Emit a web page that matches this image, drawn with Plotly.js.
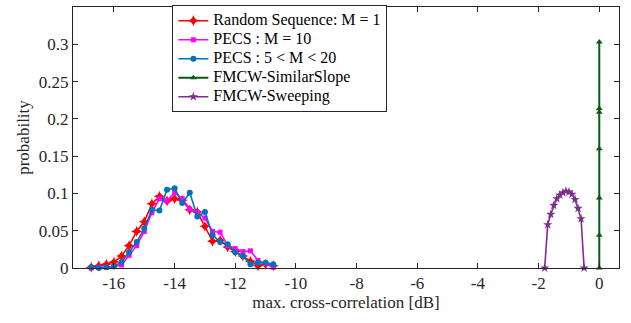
<!DOCTYPE html>
<html>
<head>
<meta charset="utf-8">
<script src="https://cdn.plot.ly/plotly-3.0.1.min.js"></script>
<style>html,body{margin:0;padding:0;background:#fff;}#chart{width:631px;height:323px;}</style>
</head>
<body>
<div id="chart"></div>
<script>
// bins of the three correlation histograms [dB]
const binX = [-16.75,-16.5,-16.25,-16.0,-15.75,-15.5,-15.25,-15.0,-14.75,-14.5,-14.25,-14.0,-13.75,-13.5,-13.25,-13.0,-12.75,-12.5,-12.25,-12.0,-11.75,-11.5,-11.25,-11.0,-10.75];
const randomSeq = [0.001,0.003,0.005,0.008,0.016,0.030,0.049,0.062,0.086,0.096,0.090,0.093,0.091,0.078,0.075,0.056,0.036,0.037,0.028,0.022,0.016,0.009,0.003,0.005,0.003];
const pecsM10  = [0.000,0.001,0.001,0.002,0.004,0.017,0.030,0.049,0.074,0.093,0.090,0.101,0.093,0.079,0.074,0.067,0.049,0.048,0.030,0.026,0.022,0.023,0.010,0.006,0.001];
const pecsMrange = [0.001,0.000,0.001,0.002,0.008,0.021,0.035,0.053,0.078,0.077,0.105,0.107,0.087,0.101,0.069,0.075,0.044,0.035,0.032,0.021,0.016,0.005,0.007,0.007,0.005];

const sweepX = [-1.8,-1.7,-1.6,-1.5,-1.4,-1.3,-1.2,-1.1,-1.0,-0.9,-0.8,-0.7,-0.6,-0.5];
const sweepY = [0,0.058,0.072,0.084,0.093,0.098,0.101,0.103,0.102,0.099,0.092,0.080,0.066,0];

const similarX = [0,0,0,0,0,0,0];
const similarY = [0,0.044,0.094,0.160,0.209,0.214,0.303];

const seriesNames = ['Random Sequence: M = 1','PECS : M = 10','PECS : 5 &lt; M &lt; 20','FMCW-SimilarSlope','FMCW-Sweeping'];

const xTickVals = [-16,-14,-12,-10,-8,-6,-4,-2,0];
const xTickText = ['-16','-14','-12','-10','-8','-6','-4','-2','0'];
const yTickVals = [0,0.05,0.1,0.15,0.2,0.25,0.3];
const yTickText = ['0','0.05','0.1','0.15','0.2','0.25','0.3'];

const SERIF = 'Liberation Serif';

function nm(s){ return '<span style="font-size:16px">' + s + '</span>'; }

const traces = [
  {x: binX, y: randomSeq, name: nm(seriesNames[0]), mode:'lines+markers', cliponaxis:false,
   line:{color:'#ff0000', width:1.6}, marker:{symbol:'star-diamond', size:8, color:'#ff0000'}},
  {x: binX, y: pecsM10, name: nm(seriesNames[1]), mode:'lines+markers', cliponaxis:false,
   line:{color:'#ff00ff', width:1.6}, marker:{symbol:'square', size:5, color:'#ff00ff'}},
  {x: binX, y: pecsMrange, name: nm(seriesNames[2]), mode:'lines+markers', cliponaxis:false,
   line:{color:'#0072BD', width:1.6}, marker:{symbol:'circle', size:6, color:'#0072BD'}},
  {x: similarX, y: similarY, name: nm(seriesNames[3]), mode:'lines+markers', cliponaxis:false,
   line:{color:'#0b5a12', width:2}, marker:{symbol:'triangle-up', size:6, color:'#0b5a12'}},
  {x: sweepX, y: sweepY, name: nm(seriesNames[4]), mode:'lines+markers', cliponaxis:false,
   line:{color:'#7E2F8E', width:1.6}, marker:{symbol:'star', size:7, color:'#7E2F8E'}}
];

const layout = {
  width:631, height:323,
  margin:{l:73, r:12, t:6, b:55},
  paper_bgcolor:'#fff', plot_bgcolor:'#fff',
  showlegend:true,
  font:{family:SERIF, size:17, color:'#262626'},
  xaxis: {
    showline:true, linecolor:'#262626', linewidth:1, mirror:'ticks',
    ticks:'inside', ticklen:5, tickcolor:'#262626', showgrid:false, zeroline:false,
    tickfont:{family:SERIF, size:17, color:'#262626'},
    range:[-17.35,0.65], tickmode:'array', tickvals:xTickVals, ticktext:xTickText,
    title:{text:'max. cross-correlation [dB]', standoff:3, font:{size:17, family:SERIF, color:'#262626'}}
  },
  yaxis: {
    showline:true, linecolor:'#262626', linewidth:1, mirror:'ticks',
    ticks:'inside', ticklen:5, tickcolor:'#262626', showgrid:false, zeroline:false,
    tickfont:{family:SERIF, size:17, color:'#262626'},
    range:[0,0.35], tickmode:'array', tickvals:yTickVals, ticktext:yTickText,
    title:{text:'probability', font:{size:17, family:SERIF, color:'#262626'}}
  },
  legend:{x:0.182, y:1.003, xanchor:'left', yanchor:'top', bgcolor:'#fff',
    bordercolor:'#262626', borderwidth:1, itemwidth:30,
    font:{size:10, family:SERIF, color:'#000'}, tracegroupgap:0}
};

Plotly.newPlot('chart', traces, layout, {staticPlot:true, displayModeBar:false});
</script>
</body>
</html>
